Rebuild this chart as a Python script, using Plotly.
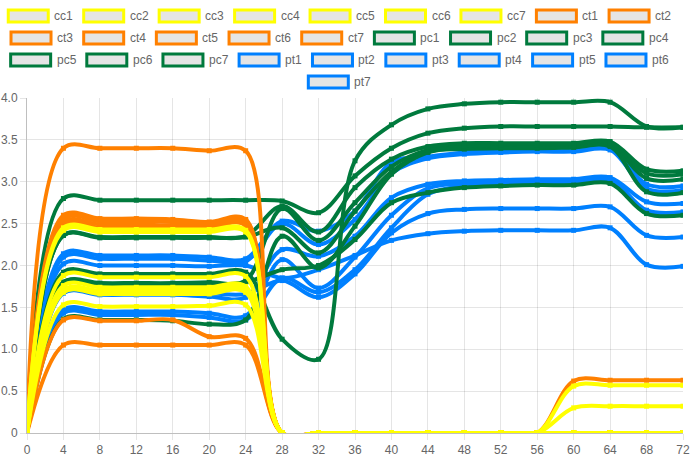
import plotly.graph_objects as go

# ---------------- data ----------------
x_values = [0, 4, 8, 12, 16, 20, 24, 28, 32, 36, 40, 44, 48, 52, 56, 60, 64, 68, 72]

cc_names = ["cc1", "cc2", "cc3", "cc4", "cc5", "cc6", "cc7"]
cc_values = [
    [0, 2.42, 2.40, 2.40, 2.40, 2.40, 2.40, 0, 0, 0, 0, 0, 0, 0, 0, 0, 0, 0, 0],
    [0, 1.88, 1.86, 1.86, 1.86, 1.86, 1.87, 0, 0, 0, 0, 0, 0, 0, 0, 0.56, 0.57, 0.57, 0.57],
    [0, 2.45, 2.43, 2.43, 2.43, 2.43, 2.42, 0, 0, 0, 0, 0, 0, 0, 0, 0, 0, 0, 0],
    [0, 1.76, 1.74, 1.74, 1.74, 1.74, 1.75, 0, 0, 0, 0, 0, 0, 0, 0, 0, 0, 0, 0],
    [0, 1.53, 1.51, 1.51, 1.51, 1.52, 1.53, 0, 0, 0, 0, 0, 0, 0, 0, 0.30, 0.32, 0.32, 0.32],
    [0, 1.71, 1.70, 1.70, 1.70, 1.70, 1.71, 0, 0, 0, 0, 0, 0, 0, 0, 0, 0, 0, 0],
    [0, 1.68, 1.66, 1.66, 1.66, 1.66, 1.68, 0, 0, 0, 0, 0, 0, 0, 0, 0, 0, 0, 0],
]

ct_names = ["ct1", "ct2", "ct3", "ct4", "ct5", "ct6", "ct7"]
ct_values = [
    [0, 3.40, 3.40, 3.40, 3.40, 3.37, 3.37, 0, 0, 0, 0, 0, 0, 0, 0, 0, 0, 0, 0],
    [0, 2.60, 2.56, 2.56, 2.55, 2.52, 2.55, 0, 0, 0, 0, 0, 0, 0, 0, 0, 0, 0, 0],
    [0, 1.05, 1.05, 1.05, 1.05, 1.05, 1.05, 0, 0, 0, 0, 0, 0, 0, 0, 0.62, 0.63, 0.63, 0.63],
    [0, 2.52, 2.49, 2.49, 2.48, 2.48, 2.52, 0, 0, 0, 0, 0, 0, 0, 0, 0, 0, 0, 0],
    [0, 1.35, 1.34, 1.34, 1.35, 1.15, 1.13, 0, 0, 0, 0, 0, 0, 0, 0, 0, 0, 0, 0],
    [0, 2.56, 2.53, 2.53, 2.52, 2.50, 2.54, 0, 0, 0, 0, 0, 0, 0, 0, 0, 0, 0, 0],
    [0, 2.48, 2.45, 2.45, 2.45, 2.45, 2.48, 0, 0, 0, 0, 0, 0, 0, 0, 0, 0, 0, 0],
]

pc_names = ["pc1", "pc2", "pc3", "pc4", "pc5", "pc6", "pc7"]
pc_values = [
    [0, 1.92, 1.90, 1.90, 1.90, 1.90, 1.92, 1.12, 0.88, 3.25, 3.68, 3.87, 3.93, 3.95, 3.95, 3.95, 3.95, 3.66, 3.65],
    [0, 2.80, 2.78, 2.78, 2.78, 2.78, 2.78, 2.77, 2.63, 3.07, 3.40, 3.58, 3.64, 3.66, 3.66, 3.66, 3.66, 3.65, 3.65],
    [0, 2.36, 2.34, 2.34, 2.34, 2.34, 2.35, 2.71, 2.40, 2.93, 3.27, 3.42, 3.46, 3.46, 3.46, 3.46, 3.48, 3.15, 3.13],
    [0, 1.80, 1.79, 1.79, 1.79, 1.80, 1.82, 2.68, 2.30, 2.75, 3.18, 3.38, 3.43, 3.44, 3.44, 3.45, 3.46, 3.10, 3.09],
    [0, 1.36, 1.35, 1.35, 1.34, 1.30, 1.35, 2.35, 1.97, 2.47, 3.09, 3.35, 3.41, 3.42, 3.42, 3.43, 3.44, 3.04, 3.03],
    [0, 2.36, 2.33, 2.33, 2.33, 2.33, 2.34, 2.45, 2.15, 2.65, 3.12, 3.36, 3.39, 3.40, 3.40, 3.41, 3.42, 2.88, 2.87],
    [0, 1.80, 1.77, 1.77, 1.77, 1.77, 1.80, 1.95, 2.00, 2.31, 2.75, 2.87, 2.93, 2.95, 2.96, 2.96, 2.98, 2.62, 2.60],
]

pt_names = ["pt1", "pt2", "pt3", "pt4", "pt5", "pt6", "pt7"]
pt_values = [
    [0, 2.14, 2.12, 2.12, 2.12, 2.10, 2.08, 2.53, 2.41, 2.65, 3.23, 3.30, 3.35, 3.37, 3.38, 3.38, 3.40, 2.97, 2.95],
    [0, 2.10, 2.08, 2.08, 2.08, 2.06, 2.05, 2.50, 2.25, 2.55, 3.10, 3.28, 3.33, 3.35, 3.36, 3.36, 3.38, 2.92, 2.90],
    [0, 1.67, 1.65, 1.65, 1.65, 1.63, 1.62, 2.19, 2.11, 2.35, 2.81, 2.97, 3.01, 3.02, 3.03, 3.03, 3.05, 2.76, 2.74],
    [0, 1.47, 1.45, 1.45, 1.45, 1.43, 1.40, 2.07, 1.73, 2.10, 2.60, 2.92, 2.98, 3.00, 3.00, 3.02, 3.03, 2.66, 2.64],
    [0, 1.43, 1.41, 1.41, 1.41, 1.38, 1.35, 1.85, 1.68, 1.95, 2.45, 2.85, 2.95, 2.97, 2.98, 2.99, 3.00, 2.63, 2.62],
    [0, 1.70, 1.68, 1.68, 1.68, 1.67, 1.66, 1.82, 1.62, 1.90, 2.39, 2.62, 2.67, 2.68, 2.68, 2.68, 2.70, 2.36, 2.34],
    [0, 2.02, 2.00, 2.00, 2.00, 1.99, 2.00, 1.85, 1.95, 2.12, 2.30, 2.38, 2.41, 2.42, 2.42, 2.42, 2.45, 2.01, 1.99],
]

x_tick_vals = [0, 4, 8, 12, 16, 20, 24, 28, 32, 36, 40, 44, 48, 52, 56, 60, 64, 68, 72]
y_tick_vals = [0, 0.5, 1.0, 1.5, 2.0, 2.5, 3.0, 3.5, 4.0]
y_tick_text = ["0", "0.5", "1.0", "1.5", "2.0", "2.5", "3.0", "3.5", "4.0"]

# ---------------- style ----------------
group_colors = {"cc": "#ffff00", "ct": "#ff8000", "pc": "#007a3d", "pt": "#0080ff"}
FONT = "Liberation Sans, Arial, Helvetica, sans-serif"
W, H = 692, 461
ML, MR, MT, MB = 27, 9, 98, 28
PW, PH = W - ML - MR, H - MT - MB

groups = [
    ("cc", cc_names, cc_values),
    ("ct", ct_names, ct_values),
    ("pc", pc_names, pc_values),
    ("pt", pt_names, pt_values),
]
all_series = []
for key, names, vals in groups:
    for n, v in zip(names, vals):
        all_series.append((n, v, group_colors[key]))

fig = go.Figure()
# Chart.js draws the first dataset on top, so add in reverse order
for n, v, c in reversed(all_series):
    fig.add_trace(go.Scatter(
        x=x_values, y=v, name=n, mode="lines+markers",
        line=dict(color=c, width=4, shape="spline", smoothing=1.0),
        marker=dict(color=c, size=5, symbol="square"),
        showlegend=False, hoverinfo="x+y+name",
    ))

# ---------------- Chart.js-like legend ----------------
char_w = {"c": 500, "t": 278, "p": 556}
def text_width(s):
    return sum(char_w.get(ch, 556) for ch in s) * 12.5 / 1000.0

box_w, box_h, pad, fs = 40, 12, 10, 12
items = [(n, c, box_w + fs / 2 + text_width(n)) for n, v, c in all_series]
rows, cur, cur_w = [], [], pad
for it in items:
    if cur and cur_w + it[2] + pad > W:
        rows.append((cur, cur_w))
        cur, cur_w = [], pad
    cur.append(it)
    cur_w += it[2] + pad
rows.append((cur, cur_w))

def px_x(p):
    return (p - ML) / PW
def px_y(p):
    return 1 - (p - MT) / PH

shapes, annotations = [], []
for r, (row_items, lw) in enumerate(rows):
    cx = (W - lw) / 2 + 4
    top = 10 + r * 22
    for n, c, w in row_items:
        shapes.append(dict(
            type="rect", xref="paper", yref="paper",
            x0=px_x(cx), x1=px_x(cx + box_w), y0=px_y(top + box_h), y1=px_y(top),
            line=dict(color=c, width=3), fillcolor="rgba(0,0,0,0.1)", layer="above",
        ))
        annotations.append(dict(
            xref="paper", yref="paper", x=px_x(cx + box_w + fs / 2 - 2), y=px_y(top + box_h / 2),
            text=n, showarrow=False, xanchor="left", yanchor="middle",
            font=dict(family=FONT, size=12, color="#666666"),
        ))
        cx += w + pad

fig.update_layout(
    width=W, height=H, autosize=False,
    margin=dict(l=ML, r=MR, t=MT, b=MB, pad=0),
    paper_bgcolor="white", plot_bgcolor="white",
    font=dict(family=FONT, size=12, color="#666666"),
    shapes=shapes, annotations=annotations,
    showlegend=False,
    xaxis=dict(
        range=[0, 72], tickmode="array", tickvals=x_tick_vals,
        showgrid=True, gridcolor="rgba(0,0,0,0.1)", gridwidth=1,
        zeroline=False, showline=True, linecolor="rgba(0,0,0,0.25)", linewidth=1,
        ticks="outside", ticklen=6, tickcolor="rgba(0,0,0,0.1)",
        tickfont=dict(family=FONT, size=12, color="#666666"), automargin=False,
    ),
    yaxis=dict(
        range=[0, 4], tickmode="array", tickvals=y_tick_vals, ticktext=y_tick_text,
        showgrid=True, gridcolor="rgba(0,0,0,0.1)", gridwidth=1,
        zeroline=False, showline=True, linecolor="rgba(0,0,0,0.25)", linewidth=1,
        ticks="outside", ticklen=6, tickcolor="rgba(0,0,0,0.1)",
        tickfont=dict(family=FONT, size=12, color="#666666"), automargin=False,
    ),
)

fig.write_html(
    "out.html",
    config={"displayModeBar": False},
    post_script="document.body.style.margin='0';document.body.style.padding='0';document.body.style.overflow='hidden';",
)
